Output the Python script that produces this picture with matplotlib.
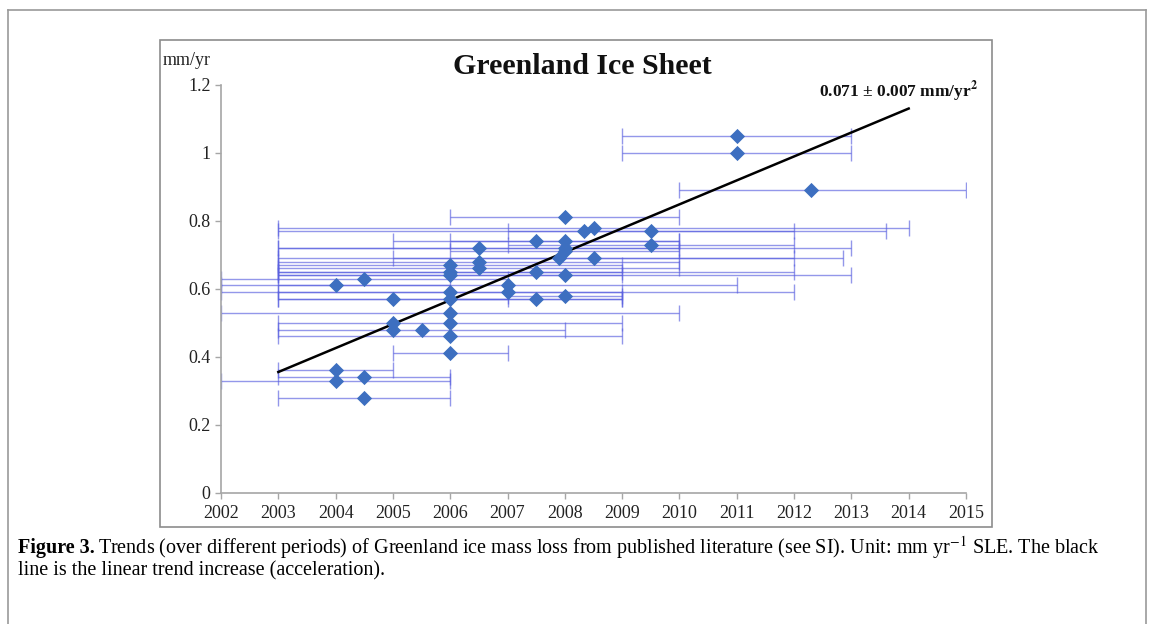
import matplotlib
matplotlib.use("Agg")
import matplotlib.pyplot as plt
import numpy as np
from matplotlib.lines import Line2D

# marker position (year, trend) and the period each trend covers
years = [2011.0, 2011.0, 2012.3, 2008.0, 2008.5, 2008.33, 2009.5, 2007.5, 2008.0, 2009.5,
         2006.5, 2008.0, 2008.0, 2007.9, 2008.5, 2006.5, 2006.0, 2006.5, 2006.0, 2007.5,
         2006.0, 2008.0, 2004.5, 2004.0, 2007.0, 2007.0, 2006.0, 2008.0, 2005.0, 2006.0,
         2007.5, 2006.0, 2005.0, 2006.0, 2005.0, 2005.5, 2006.0, 2006.0, 2004.0, 2004.5,
         2004.0, 2004.5]
values = [1.05, 1.00, 0.89, 0.81, 0.78, 0.77, 0.77, 0.74, 0.74, 0.73,
          0.72, 0.72, 0.71, 0.69, 0.69, 0.68, 0.67, 0.66, 0.65, 0.65,
          0.64, 0.64, 0.63, 0.61, 0.61, 0.59, 0.59, 0.58, 0.57, 0.57,
          0.57, 0.53, 0.50, 0.50, 0.48, 0.48, 0.46, 0.41, 0.36, 0.34,
          0.33, 0.28]
period_start = [2009, 2009, 2010, 2006, 2003, 2003, 2007, 2005, 2006, 2007,
                2003, 2003, 2006, 2003, 2005, 2003, 2003, 2003, 2003, 2003,
                2003, 2003, 2002, 2002, 2003, 2002, 2003, 2007, 2003, 2003,
                2006, 2002, np.nan, 2003, np.nan, 2003, 2003, 2005, 2003, 2003,
                2002, 2003]
period_end = [2013, 2013, 2015, 2010, 2014, 2013.6, 2012, 2010, 2010, 2012,
              2010, 2013, 2010, 2012.85, 2012, 2010, 2009, 2010, 2009, 2012,
              2009, 2013, 2007, 2006, 2011, 2012, 2009, 2009, 2007, 2009,
              2009, 2010, np.nan, 2009, np.nan, 2008, 2009, 2007, 2005, 2006,
              2006, 2006]

trend_years = [2003, 2014]
trend_values = [0.355, 1.13]

year_ticks = list(range(2002, 2016))
value_ticks = [0, 0.2, 0.4, 0.6, 0.8, 1.0, 1.2]
value_labels = ["0", "0.2", "0.4", "0.6", "0.8", "1", "1.2"]

SERIF = ["Liberation Serif", "DejaVu Serif"]
plt.rcParams["font.family"] = SERIF
plt.rcParams["mathtext.fontset"] = "stix"

fig = plt.figure(figsize=(11.53, 6.24), dpi=100)

# outer page frame and chart frame
fig.add_artist(Line2D([0.007, 0.007], [0.0, 0.984], color="#9a9a9a", lw=1.2))
fig.add_artist(Line2D([0.007, 0.994], [0.984, 0.984], color="#9a9a9a", lw=1.2))
fig.add_artist(Line2D([0.994, 0.994], [0.0, 0.984], color="#9a9a9a", lw=1.2))
fig.add_artist(plt.Rectangle((0.139, 0.155), 0.721, 0.781, transform=fig.transFigure,
                             fill=False, edgecolor="#8c8c8c", lw=1.2))

ax = fig.add_axes([0.1917, 0.2104, 0.6461, 0.6538])

yr = np.array(years)
val = np.array(values)
lo = np.array(period_start, dtype=float)
hi = np.array(period_end, dtype=float)
has_bar = ~np.isnan(lo)

ax.errorbar(yr[has_bar], val[has_bar],
            xerr=[yr[has_bar] - lo[has_bar], hi[has_bar] - yr[has_bar]],
            fmt="none", ecolor="#5a60e0", alpha=0.65, elinewidth=1.0,
            capsize=6, capthick=1.0, zorder=2)
ax.plot(trend_years, trend_values, color="black", lw=1.8, zorder=3)
ax.scatter(yr, val, marker="D", s=60, color="#3d6fc0", zorder=4, linewidths=0)

ax.set_xlim(2002, 2015)
ax.set_ylim(0, 1.2)
ax.set_xticks(year_ticks)
ax.set_xticklabels([str(y) for y in year_ticks], fontsize=13)
ax.set_yticks(value_ticks)
ax.set_yticklabels(value_labels, fontsize=13)
for side in ["top", "right"]:
    ax.spines[side].set_visible(False)
for side in ["left", "bottom"]:
    ax.spines[side].set_color("#a6a6a6")
    ax.spines[side].set_linewidth(1.2)
ax.tick_params(axis="both", colors="#a6a6a6", labelcolor="#222222", length=4, width=1.0)
ax.tick_params(axis="x", pad=5)

fig.text(0.505, 0.894, "Greenland Ice Sheet", ha="center", va="center",
         fontsize=21.5, fontweight="bold", color="#111111")
fig.text(0.141, 0.903, "mm/yr", ha="left", va="center", fontsize=13, color="#222222")
fig.text(0.848, 0.853, "0.071 ± 0.007 mm/yr$^\\mathbf{2}$", ha="right", va="center",
         fontsize=12.5, fontweight="bold", color="#111111")

# caption: bold lead-in followed by regular text
lead = fig.text(0.016, 0.122, "Figure 3.", ha="left", va="center",
                fontsize=14.5, fontweight="bold")
fig.canvas.draw()
bb = lead.get_window_extent().transformed(fig.transFigure.inverted())
fig.text(bb.x1 + 0.002, 0.122,
         "Trends (over different periods) of Greenland ice mass loss from published "
         "literature (see SI). Unit: mm yr$^{-1}$ SLE. The black",
         ha="left", va="center", fontsize=14.5)
fig.text(0.016, 0.085, "line is the linear trend increase (acceleration).",
         ha="left", va="center", fontsize=14.5)

fig.savefig("out.png", dpi=100)
